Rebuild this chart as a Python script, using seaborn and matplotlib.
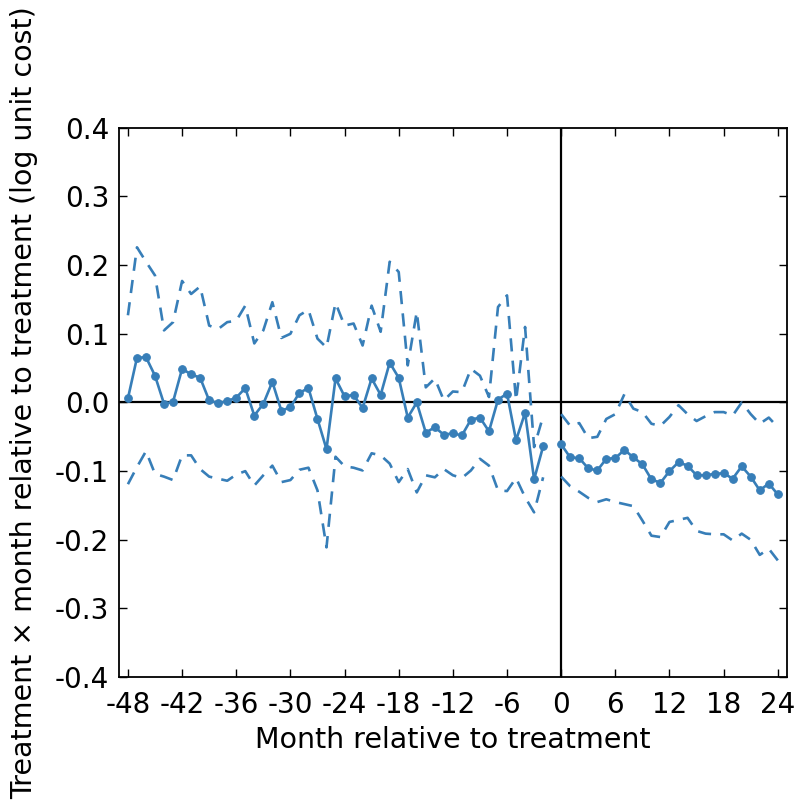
from matplotlib import pyplot as plt
import pandas as pd
import seaborn as sns
import numpy as np

# event-study estimates
months_pre = list(range(-48, -1))
coef_pre = [0.006, 0.065, 0.066, 0.039, -0.002, 0.001, 0.049, 0.041, 0.036, 0.003,
            -0.001, 0.002, 0.007, 0.021, -0.019, -0.002, 0.030, -0.012, -0.007, 0.014,
            0.021, -0.024, -0.068, 0.035, 0.009, 0.011, -0.008, 0.035, 0.011, 0.058,
            0.036, -0.022, 0.000, -0.044, -0.036, -0.047, -0.045, -0.048, -0.025, -0.022,
            -0.042, 0.004, 0.013, -0.055, -0.015, -0.112, -0.064]
hi_pre = [0.127, 0.226, 0.205, 0.185, 0.105, 0.117, 0.177, 0.158, 0.169, 0.112,
          0.107, 0.117, 0.119, 0.141, 0.086, 0.105, 0.146, 0.094, 0.100, 0.127,
          0.135, 0.093, 0.080, 0.145, 0.112, 0.115, 0.083, 0.141, 0.103, 0.205,
          0.190, 0.054, 0.132, 0.022, 0.035, 0.003, 0.016, 0.015, 0.049, 0.039,
          0.008, 0.139, 0.156, 0.003, 0.110, -0.065, -0.020]
lo_pre = [-0.119, -0.094, -0.071, -0.104, -0.108, -0.113, -0.077, -0.077, -0.097, -0.108,
          -0.111, -0.114, -0.105, -0.100, -0.121, -0.106, -0.092, -0.116, -0.113, -0.098,
          -0.095, -0.128, -0.211, -0.079, -0.093, -0.095, -0.099, -0.074, -0.077, -0.089,
          -0.116, -0.097, -0.131, -0.106, -0.109, -0.097, -0.106, -0.110, -0.099, -0.082,
          -0.092, -0.128, -0.129, -0.110, -0.138, -0.160, -0.109]

months_post = list(range(0, 25))
coef_post = [-0.061, -0.080, -0.081, -0.096, -0.099, -0.082, -0.081, -0.069, -0.080, -0.090,
             -0.112, -0.117, -0.100, -0.087, -0.092, -0.106, -0.106, -0.104, -0.103, -0.111,
             -0.093, -0.108, -0.128, -0.118, -0.134]
hi_post = [-0.017, -0.034, -0.030, -0.052, -0.050, -0.024, -0.017, 0.012, -0.009, -0.014,
           -0.031, -0.034, -0.021, -0.004, -0.017, -0.027, -0.020, -0.014, -0.014, -0.019,
           0.000, -0.017, -0.031, -0.022, -0.036]
lo_post = [-0.108, -0.122, -0.130, -0.139, -0.145, -0.141, -0.145, -0.148, -0.151, -0.172,
           -0.194, -0.196, -0.174, -0.171, -0.168, -0.187, -0.191, -0.192, -0.192, -0.201,
           -0.191, -0.200, -0.222, -0.213, -0.230]

yticks = [-0.4, -0.3, -0.2, -0.1, 0.0, 0.1, 0.2, 0.3, 0.4]
ytick_labels = ['-0.4', '-0.3', '-0.2', '-0.1', '0.0', '0.1', '0.2', '0.3', '0.4']

color = '#377eb8'

df = pd.DataFrame({
    'month': months_pre + months_post,
    'coef': coef_pre + coef_post,
    'hi': hi_pre + hi_post,
    'lo': lo_pre + lo_post,
    'period': ['pre'] * len(months_pre) + ['post'] * len(months_post),
})

sns.set_style('ticks')
plt.rcParams['font.family'] = ['DejaVu Sans']
plt.rcParams['axes.unicode_minus'] = False
plt.rcParams['xtick.direction'] = 'in'
plt.rcParams['ytick.direction'] = 'in'
plt.rcParams['xtick.top'] = True
plt.rcParams['ytick.right'] = True
plt.rcParams['text.color'] = 'black'
plt.rcParams['axes.labelcolor'] = 'black'
plt.rcParams['xtick.color'] = 'black'
plt.rcParams['ytick.color'] = 'black'
plt.rcParams['axes.edgecolor'] = 'black'

fig, ax = plt.subplots(figsize=(7.98, 8.09), dpi=100)
fig.subplots_adjust(left=0.149, right=0.986, top=0.842, bottom=0.163)

ax.axhline(0, color='black', lw=1.6, zorder=1)
ax.axvline(0, color='black', lw=1.6, zorder=1)

for col in ['hi', 'lo']:
    sns.lineplot(x='month', y=col, data=df, units='period', estimator=None,
                 color=color, lw=1.9, ax=ax)
for line in ax.lines[2:]:
    line.set_dashes([5, 3.5])

sns.lineplot(x='month', y='coef', data=df, units='period', estimator=None,
             color=color, lw=1.9, marker='o', markersize=5.5,
             markeredgecolor=color, ax=ax)

ax.set_xlim(-49, 25)
ax.set_ylim(-0.4, 0.4)
ax.set_xticks(np.arange(-48, 25, 6))
ax.set_yticks(yticks)
ax.set_yticklabels(ytick_labels)
ax.tick_params(labelsize=20, length=6, width=1)
ax.tick_params(axis='x', pad=10)
ax.tick_params(axis='y', pad=7)
for s in ax.spines.values():
    s.set_linewidth(1.3)

ax.set_xlabel('Month relative to treatment', fontsize=20.5, labelpad=5)
ax.set_ylabel('Treatment \u00d7 month relative to treatment (log unit cost)', fontsize=20.5, labelpad=12)

fig.savefig('out.png', dpi=100)
plt.close()
